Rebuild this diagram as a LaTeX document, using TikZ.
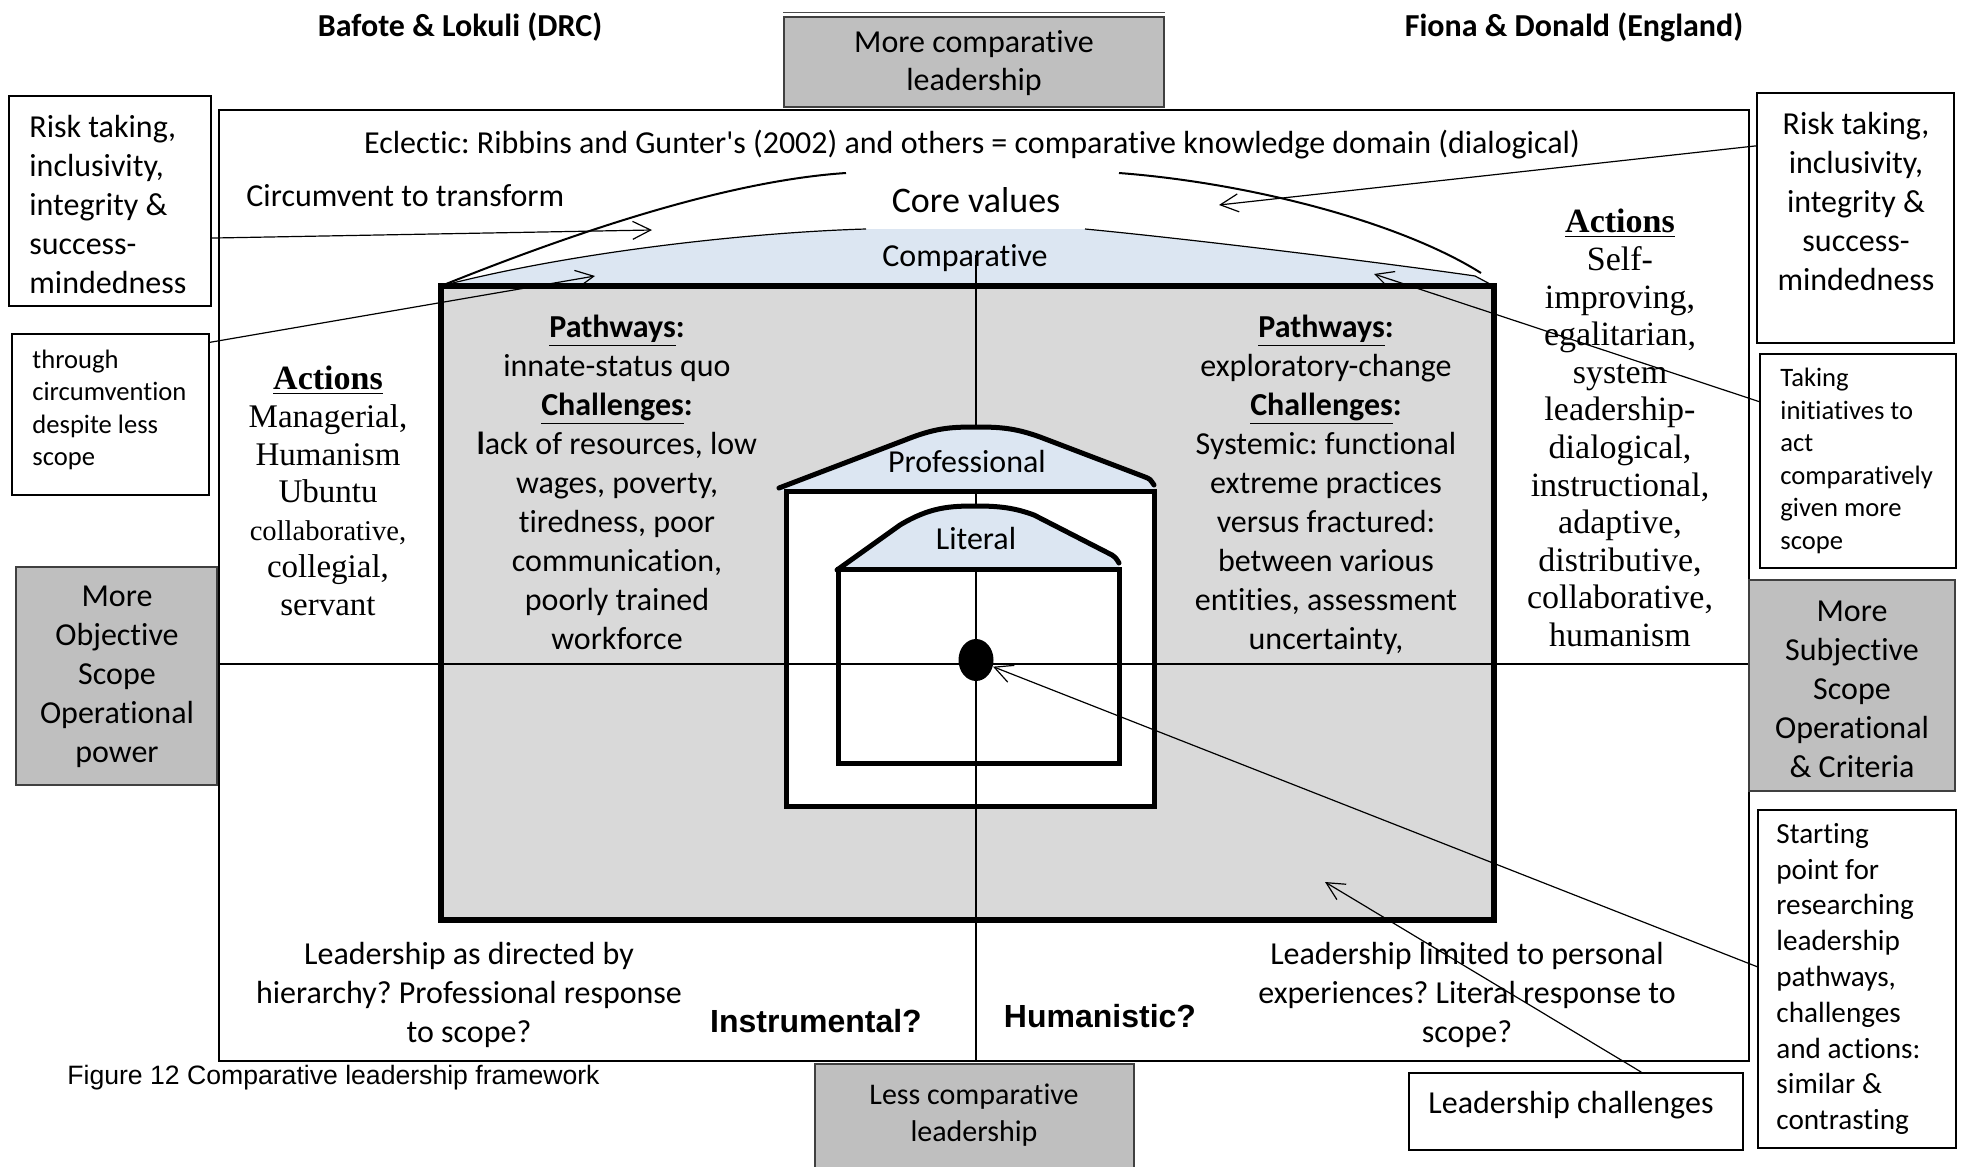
\documentclass[tikz,border=0pt]{standalone}
\usepackage{fontspec}
\setmainfont[Ligatures=NoCommon]{Carlito}
\newfontfamily\cambriaf[Ligatures=NoCommon]{Liberation Serif}
\newfontfamily\arialf[Ligatures=NoCommon]{Liberation Sans}
\usetikzlibrary{arrows.meta,shapes.geometric}
\definecolor{capblue}{HTML}{DCE6F2}
\definecolor{innergray}{HTML}{D9D9D9}
\definecolor{boxgray}{HTML}{BFBFBF}
\newcommand{\myfs}[2]{\fontsize{#1}{#2}\selectfont}
\frenchspacing
\begin{document}
\frenchspacing
\begin{tikzpicture}[x=0.5pt,y=-0.5pt,
  box/.style={draw=black, line width=0.8pt, fill=white, inner sep=0},
  graybox/.style={draw=black!75, line width=0.9pt, fill=boxgray, inner sep=0},
  txt/.style={inner sep=0, align=center, font=\myfs{16}{19.5}},
  smalltxt/.style={inner sep=0, align=left, anchor=west, font=\myfs{13.3}{16.25}},
  arr/.style={line width=0.6pt, -{Straight Barb[length=9pt,width=9pt]}},
  thinline/.style={line width=0.6pt},
  axis/.style={line width=0.8pt},
  frame/.style={line width=2.5pt},
  capfill/.style={fill=capblue}]
\useasboundingbox (0,0) rectangle (1961,1167);
\fill[white] (0,0) rectangle (1961,1167);

% outer rectangle
\draw[line width=1.3pt, fill=white] (219,110) rectangle (1749,1061);

% comparative cap
\fill[capfill] (441,286) .. controls (580,250) and (760,232) .. (866,229) -- (1085,229)
   .. controls (1200,240) and (1400,265) .. (1475,276) -- (1494,286) -- cycle;
\draw[thinline] (441,286) .. controls (580,250) and (760,232) .. (866,229);
\draw[thinline] (1085,229) .. controls (1200,240) and (1400,265) .. (1475,276) -- (1490,284);

% inner gray area and frames (fills)
\fill[innergray] (441,286) rectangle (1494,920);
\fill[white] (786,491) rectangle (1154,806);

% axes
\draw[axis] (219,664) -- (1749,664);
\draw[axis] (976,255) -- (976,1061);

% professional cap
\fill[capfill] (779,488) -- (905,440) .. controls (935,428) and (950,427) .. (976,427)
   .. controls (1000,427) and (1015,428) .. (1040,437) -- (1145,477)
   .. controls (1150,479) .. (1154,485) -- (1154,491) -- (779,491) -- cycle;
\draw[frame, line cap=round] (779,488) -- (905,440) .. controls (935,428) and (950,427) .. (976,427)
   .. controls (1000,427) and (1015,428) .. (1040,437) -- (1145,477)
   .. controls (1150,479) .. (1154,485);

% literal cap
\fill[capfill] (837,570) -- (900,525) .. controls (930,507) and (950,506) .. (976,506)
   .. controls (1000,506) and (1015,508) .. (1034,515) -- (1112,555)
   .. controls (1116,558) .. (1119,563) -- (1119,569) -- (837,569) -- cycle;
\draw[frame, line cap=round] (837,570) -- (900,525) .. controls (930,507) and (950,506) .. (976,506)
   .. controls (1000,506) and (1015,508) .. (1034,515) -- (1112,555)
   .. controls (1116,558) .. (1119,563);

% frames
\draw[line width=3pt] (441,286) rectangle (1494,920);
\draw[frame] (786,491) rectangle (1154,806);
\draw[frame] (838,569) rectangle (1119,763);

% centre dot
\node[ellipse, fill=black, minimum width=17.5pt, minimum height=21pt, inner sep=0] (dot) at (976,660) {};

% core values arcs
\draw[line width=1pt] (441,286) .. controls (600,222) and (740,180) .. (846,173);
\draw[line width=1pt] (1119,173) .. controls (1250,183) and (1400,222) .. (1481,273);

% texts inside
\node[txt, font=\bfseries\myfs{16}{19.5}] (title1) at (460,27) {Bafote \& Lokuli (DRC)};
\node[txt, font=\bfseries\myfs{16}{19.5}] (title2) at (1574,27) {Fiona \& Donald (England)};
\node[txt] (eclectic) at (972,145) {Eclectic: Ribbins and Gunter\textquotesingle s (2002) and others = comparative knowledge domain (dialogical)};
\node[txt, anchor=west] (circ) at (246,196) {Circumvent to transform};
\node[txt, font=\myfs{18}{21}] (core) at (976,200) {Core values};
\node[txt] (compar) at (965,258) {Comparative};
\node[txt] (prof) at (967,462) {Professional};
\node[txt] (lit) at (976,539) {Literal};

\node[txt, font=\cambriaf\myfs{16.5}{18.8}] (actL) at (328,491)
  {{\bfseries\myfs{17}{18.8}\underline{Actions}}\\Managerial,\\Humanism\\Ubuntu\\{\myfs{14.3}{18.8}collaborative,}\\collegial,\\servant};
\node[txt, font=\cambriaf\myfs{17}{18.8}] (actR) at (1620,428)
  {\textbf{\underline{Actions}}\\Self-\\improving,\\egalitarian,\\system\\leadership-\\dialogical,\\instructional,\\adaptive,\\distributive,\\collaborative,\\humanism};

\node[txt] (pathL) at (617,482)
  {\textbf{\underline{Pathways}:}\\innate-status quo\\\textbf{\underline{Challenges}:}\\\textbf{l}ack of resources, low\\wages, poverty,\\tiredness, poor\\communication,\\poorly trained\\workforce};
\node[txt] (pathR) at (1326,485)
  {\textbf{\underline{Pathways}:}\\exploratory-change\\\textbf{\underline{Challenges}:}\\Systemic: functional\\extreme practices\\versus fractured:\\between various\\entities, assessment\\uncertainty,};

\node[txt] (botL) at (469,995) {Leadership as directed by\\hierarchy? Professional response\\to scope?};
\node[txt] (botR) at (1467,995) {Leadership limited to personal\\experiences? Literal response to\\scope?};
\node[txt, font=\arialf\bfseries\myfs{16}{19}] (instr) at (816,1021) {Instrumental?};
\node[txt, font=\arialf\bfseries\myfs{16}{19}] (human) at (1100,1016) {Humanistic?};
\node[txt, anchor=west, font=\arialf\myfs{13.3}{16}] (caption) at (67,1078) {Figure 12 Comparative leadership framework};

% side boxes
\node[box, minimum width=101pt, minimum height=105pt] (riskL) at (110,201) {};
\node[txt, align=left, anchor=west] (riskLt) at (29,204.5) {Risk taking,\\inclusivity,\\integrity \&\\success-\\mindedness};
\node[box, minimum width=98.5pt, minimum height=80.5pt] (thruL) at (110.5,414.5) {};
\node[smalltxt] (thruLt) at (32,410) {through\\circumvention\\despite less\\scope};
\node[graybox, minimum width=100.5pt, minimum height=109pt] (objL) at (116.5,676) {};
\node[txt] (objLt) at (117,677) {More\\Objective\\Scope\\Operational\\power};

\node[box, minimum width=98.5pt, minimum height=125pt] (riskR) at (1855.5,218) {};
\node[txt] (riskRt) at (1856,202) {Risk taking,\\inclusivity,\\integrity \&\\success-\\mindedness};
\node[box, minimum width=98pt, minimum height=107pt] (takeR) at (1858,461) {};
\node[smalltxt] (takeRt) at (1780,461) {Taking\\initiatives to\\act\\comparatively\\given more\\scope};
\node[graybox, minimum width=103pt, minimum height=105.5pt] (subjR) at (1852,685.5) {};
\node[txt] (subjRt) at (1852,689) {More\\Subjective\\Scope\\Operational\\\& Criteria};
\node[box, minimum width=99pt, minimum height=169pt] (startR) at (1857,979) {};
\node[smalltxt, font=\myfs{14.6}{17.9}] (startRt) at (1776,979) {Starting\\point for\\researching\\leadership\\pathways,\\challenges\\and actions:\\similar \&\\contrasting};

\node[graybox, minimum width=190pt, minimum height=45pt] (moreTop) at (974,62) {};
\draw[line width=0.6pt, black!70] ([yshift=2pt]moreTop.north west) -- ([yshift=2pt]moreTop.north east);
\node[txt, font=\myfs{16}{19}] (moreTopt) at (974,63) {More comparative\\leadership};
\node[graybox, minimum width=159.5pt, minimum height=53pt] (lessBot) at (974.5,1117) {};
\node[txt, font=\myfs{15}{18.5}] (lessBott) at (974,1115) {Less comparative\\leadership};
\node[box, minimum width=167pt, minimum height=38.5pt] (chall) at (1576,1111.5) {};
\node[txt] (challt) at (1571,1105) {Leadership challenges};

% arrow targets
\coordinate (tL1) at (652,230);
\coordinate (tL2) at (595,276);
\coordinate (tR1) at (1219,205);
\coordinate (tR2) at (1374,274);
\coordinate (tR3) at (1325,882);

% arrows
\draw[arr] (riskL.-20.6) -- (tL1);
\draw[arr] (thruL.36.4) -- (tL2);
\draw[arr] (riskR.144.2) -- (tR1);
\draw[arr] (takeR.149) -- (tR2);
\draw[arr] (startR.173.7) -- (dot);
\draw[arr] (chall.31.8) -- (tR3);
\end{tikzpicture}
\end{document}
